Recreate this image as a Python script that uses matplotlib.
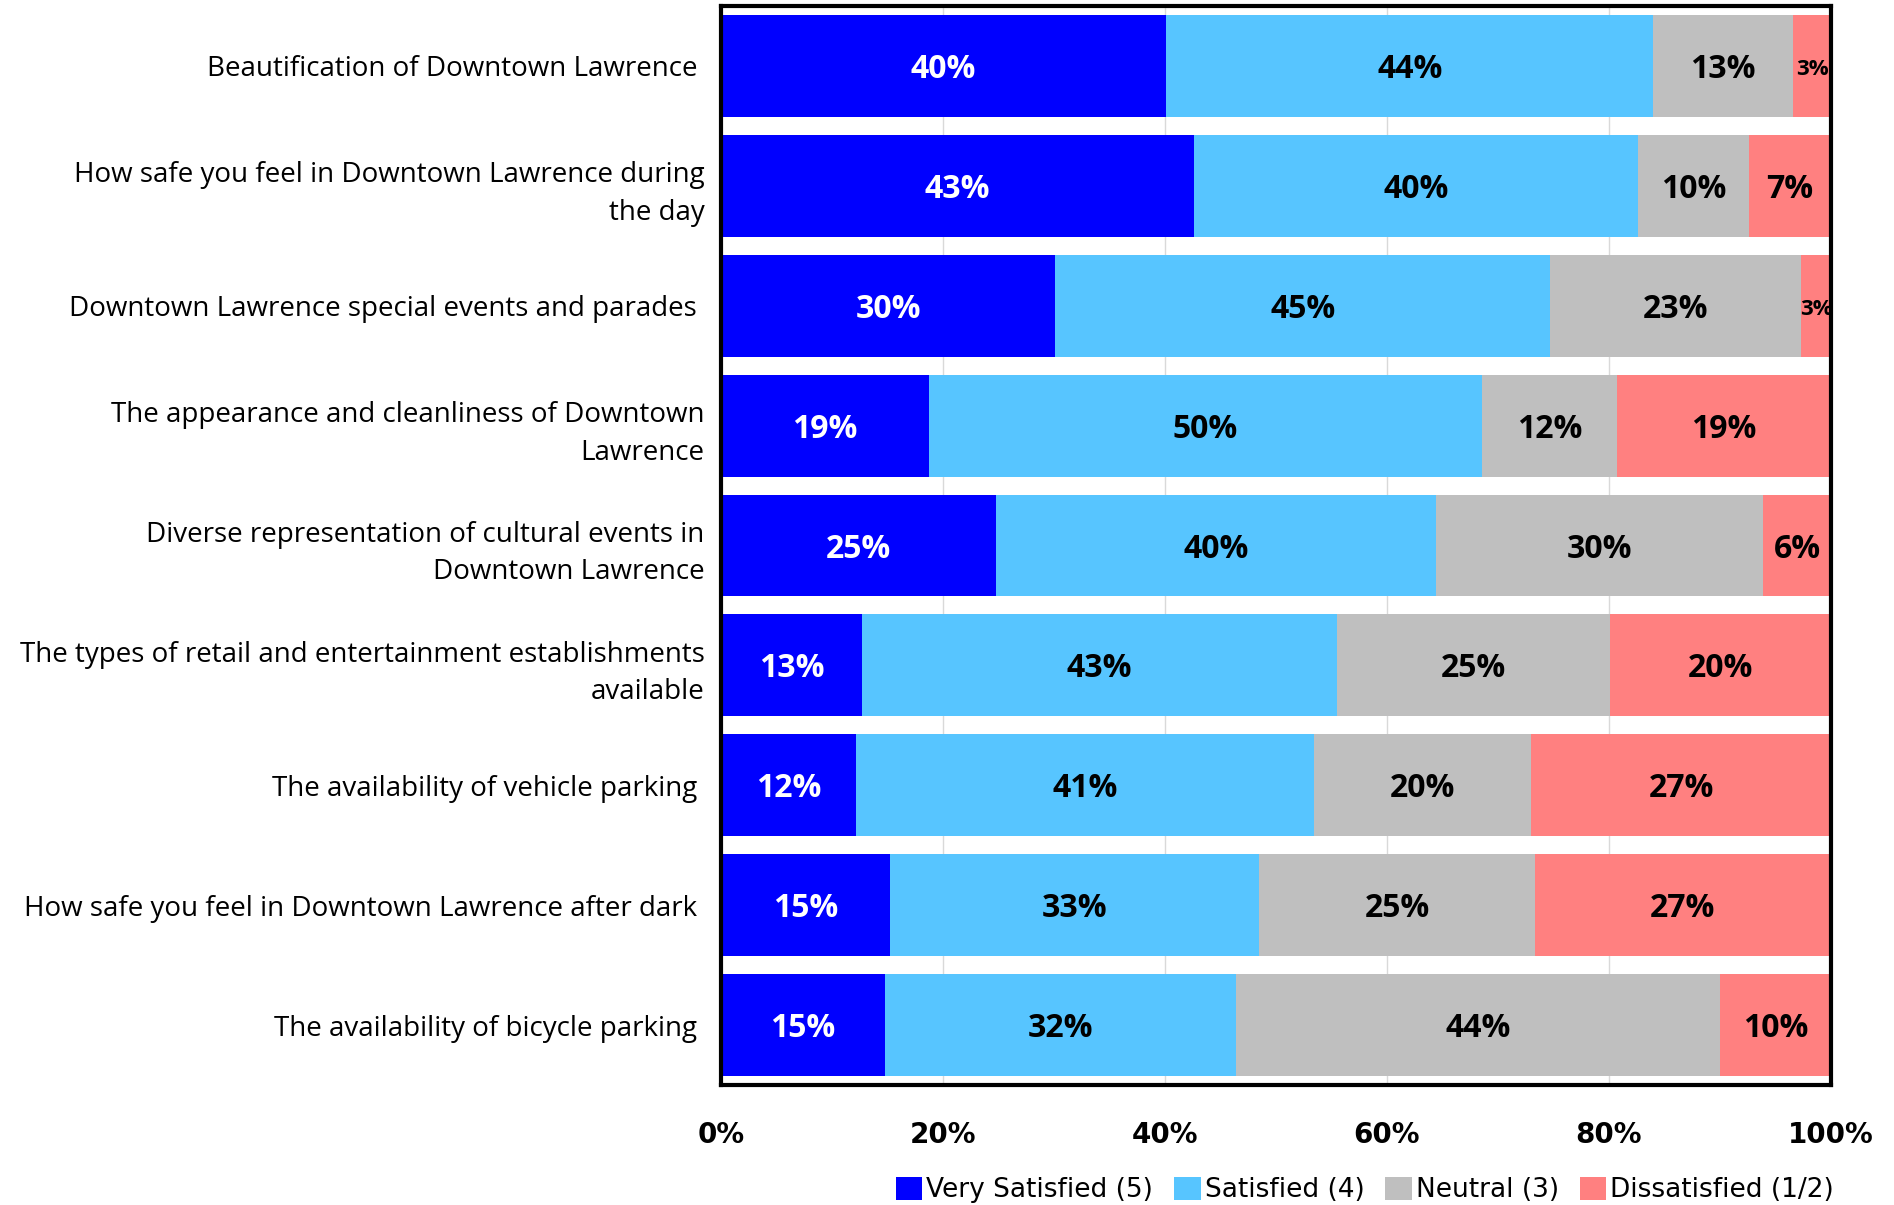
import matplotlib
matplotlib.use('Agg')
import matplotlib.pyplot as plt
from matplotlib.patches import Patch

# satisfaction data (percent of respondents)
categories = [
    'Beautification of Downtown Lawrence ',
    'How safe you feel in Downtown Lawrence during\nthe day',
    'Downtown Lawrence special events and parades ',
    'The appearance and cleanliness of Downtown\nLawrence',
    'Diverse representation of cultural events in\nDowntown Lawrence',
    'The types of retail and entertainment establishments\navailable',
    'The availability of vehicle parking ',
    'How safe you feel in Downtown Lawrence after dark ',
    'The availability of bicycle parking ',
]
very_satisfied = [40.1, 42.6, 30.1, 18.7, 24.8, 12.7, 12.2, 15.2, 14.8]
satisfied = [43.9, 40.0, 44.6, 49.9, 39.6, 42.8, 41.2, 33.3, 31.6]
neutral = [12.6, 10.0, 22.6, 12.1, 29.5, 24.6, 19.6, 24.8, 43.6]
dissatisfied = [3.4, 7.4, 2.7, 19.3, 6.1, 19.9, 27.0, 26.7, 10.0]

series_names = ['Very Satisfied (5)', 'Satisfied (4)', 'Neutral (3)', 'Dissatisfied (1/2)']
colors = ['#0000FF', '#57C5FF', '#BFBFBF', '#FF8080']
text_colors = ['white', 'black', 'black', 'black']
ticks = [0, 20, 40, 60, 80, 100]
tick_labels = ['0%', '20%', '40%', '60%', '80%', '100%']

fig = plt.figure(figsize=(18.94, 12.05), dpi=100)
ax = fig.add_axes([0.3807, 0.0996, 0.586, 0.8954])

ypos = list(range(len(categories)))
left = [0.0] * len(categories)
for vals, col, tcol in zip([very_satisfied, satisfied, neutral, dissatisfied], colors, text_colors):
    ax.barh(ypos, vals, left=left, height=0.85, color=col, zorder=2)
    for y, v, l in zip(ypos, vals, left):
        size = 23 if v >= 5 else 16
        ax.text(l + v / 2, y + 0.03, f'{round(v)}%', ha='center', va='center',
                color=tcol, fontsize=size, fontweight='bold', family='Open Sans', zorder=3)
    left = [a + b for a, b in zip(left, vals)]

ax.set_xlim(0, 100)
ax.set_ylim(len(categories) - 0.5, -0.5)
ax.set_yticks(ypos)
ax.set_yticklabels(categories, fontsize=20, family='Open Sans', ha='right', linespacing=1.45)
ax.set_xticks(ticks)
ax.set_xticklabels(tick_labels, fontsize=20, fontweight='bold', family='DejaVu Sans')
ax.tick_params(axis='both', length=0)
ax.tick_params(axis='x', pad=26)
ax.tick_params(axis='y', pad=12)
ax.grid(axis='x', color='#D9D9D9', linewidth=1, zorder=0)
for s in ax.spines.values():
    s.set_linewidth(3)
    s.set_color('black')

handles = [Patch(facecolor=c, edgecolor='none') for c in colors]
fig.legend(handles, series_names, loc='center', bbox_to_anchor=(0.7207, 0.0124),
           ncol=4, frameon=False, handlelength=1.0, handleheight=1.0,
           handletextpad=0.15, columnspacing=0.8,
           prop={'family': 'DejaVu Sans', 'size': 19})

fig.savefig('out.png', dpi=100)
